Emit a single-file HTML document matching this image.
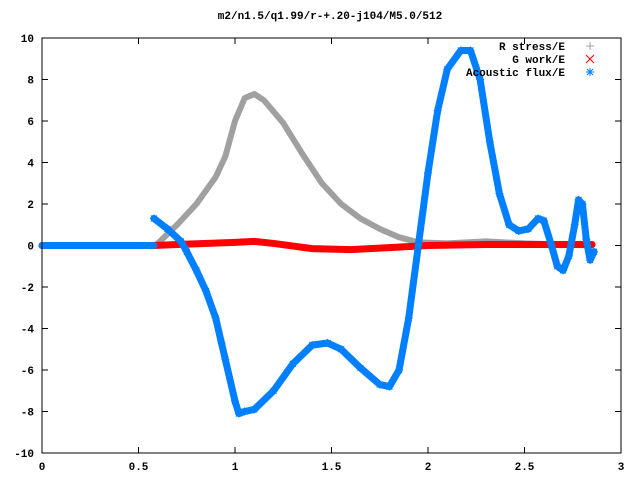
<!DOCTYPE html>
<html><head><meta charset="utf-8"><style>
body{margin:0;background:#fff}
svg text{font-family:"Liberation Mono",monospace;font-size:11px;font-weight:bold;fill:#000}
</style></head><body>
<svg id="chart" width="640" height="480" xmlns="http://www.w3.org/2000/svg">
<rect width="640" height="480" fill="#fff"/>
<text x="330" y="19" text-anchor="middle">m2/n1.5/q1.99/r-+.20-j104/M5.0/512</text>
<g id="axes"></g>
<g id="series"></g>
<rect x="42" y="38" width="579" height="415" fill="none" stroke="#000" stroke-width="1"/>
<g id="legend"></g>
</svg>
<script>
const xTicks=[0,0.5,1,1.5,2,2.5,3];
const xTickLabels=["0","0.5","1","1.5","2","2.5","3"];
const yTicks=[-10,-8,-6,-4,-2,0,2,4,6,8,10];
const yTickLabels=["-10","-8","-6","-4","-2","0","2","4","6","8","10"];
const stressX=[0,0.58,0.6,0.7,0.8,0.9,0.95,1.0,1.05,1.1,1.15,1.25,1.35,1.45,1.55,1.65,1.75,1.85,1.95,2.1,2.3,2.5,2.85];
const stressY=[0,0,0.1,1.0,2.0,3.3,4.3,6.0,7.1,7.3,7.0,5.9,4.4,3.0,2.0,1.3,0.8,0.4,0.15,0.1,0.2,0.1,0];
const workX=[0,0.58,0.7,1.0,1.1,1.2,1.4,1.6,1.8,2.0,2.3,2.85];
const workY=[0,0,0.05,0.15,0.2,0.1,-0.15,-0.2,-0.1,0,0.05,0.05];
const fluxX0=[0,0.58];
const fluxY0=[0,0];
const fluxX=[0.58,0.65,0.72,0.75,0.8,0.85,0.9,0.93,0.95,1.0,1.02,1.05,1.1,1.2,1.3,1.4,1.48,1.55,1.65,1.75,1.8,1.85,1.9,1.95,2.0,2.05,2.1,2.17,2.22,2.27,2.32,2.37,2.42,2.47,2.52,2.57,2.6,2.64,2.67,2.7,2.73,2.76,2.78,2.8,2.82,2.84,2.86];
const fluxY=[1.3,0.8,0.2,-0.3,-1.2,-2.2,-3.5,-4.7,-5.5,-7.5,-8.1,-8.0,-7.9,-7.0,-5.7,-4.8,-4.7,-5.0,-5.9,-6.7,-6.8,-6.0,-3.5,0,3.5,6.5,8.5,9.4,9.4,8.0,5.0,2.5,1.0,0.7,0.8,1.3,1.2,0,-1.0,-1.2,-0.5,1.0,2.2,2.0,0.3,-0.7,-0.3];
const L=42,R=621,T=38,B=453;
const sx=v=>L+(v-0)/(3-0)*(R-L);
const sy=v=>B-(v+10)/20*(B-T);
const NS="http://www.w3.org/2000/svg";
const axes=document.getElementById('axes');
xTicks.forEach((t,i)=>{
  const x=sx(t);
  const a=document.createElementNS(NS,'path');
  a.setAttribute('d',`M${x},${B}v-6M${x},${T}v6`);a.setAttribute('stroke','#000');
  
  
  axes.appendChild(a);
  const tx=document.createElementNS(NS,'text');
  tx.setAttribute('x',x);tx.setAttribute('y',B+17);tx.setAttribute('text-anchor','middle');
  tx.textContent=xTickLabels[i];
  
  
  axes.appendChild(tx);
});
yTicks.forEach((t,i)=>{
  const y=sy(t);
  const a=document.createElementNS(NS,'path');
  a.setAttribute('d',`M${L},${y}h6M${R},${y}h-6`);a.setAttribute('stroke','#000');
  
  
  axes.appendChild(a);
  const tx=document.createElementNS(NS,'text');
  tx.setAttribute('x',L-8);tx.setAttribute('y',y+4);tx.setAttribute('text-anchor','end');
  tx.textContent=yTickLabels[i];
  
  
  axes.appendChild(tx);
});
const series=document.getElementById('series');
function line(xs,ys,color,w,name){
  const p=document.createElementNS(NS,'polyline');
  p.setAttribute('points',xs.map((x,i)=>sx(x)+','+sy(ys[i])).join(' '));
  p.setAttribute('fill','none');p.setAttribute('stroke',color);p.setAttribute('stroke-width',w);
  p.setAttribute('stroke-linejoin','round');p.setAttribute('stroke-linecap','round');
  
  
  series.appendChild(p);
}
line(stressX,stressY,'#a0a0a0',6,'r-stress-line');
line(workX,workY,'#ff0000',7,'g-work-line');
line(fluxX0,fluxY0,'#0080ff',7,'acoustic-flux-zero');
line(fluxX,fluxY,'#0080ff',7,'acoustic-flux-line');
fluxX.forEach((x,i)=>{
  const cx=sx(x),cy=sy(fluxY[i]);
  const m=document.createElementNS(NS,'path');
  m.setAttribute('d',`M${cx-4},${cy}h8M${cx},${cy-4}v8M${cx-3},${cy-3}l6,6M${cx-3},${cy+3}l6,-6`);
  m.setAttribute('stroke','#0080ff');
  
  
  series.appendChild(m);
});
const lg=document.getElementById('legend');
const items=[["R stress/E","#a0a0a0","+"],["G work/E","#ff0000","x"],["Acoustic flux/E","#0080ff","*"]];
items.forEach((it,i)=>{
  const y=50+i*13;
  const t=document.createElementNS(NS,'text');
  t.setAttribute('x',565);t.setAttribute('y',y);t.setAttribute('text-anchor','end');
  t.textContent=it[0];
  
  
  lg.appendChild(t);
  const cx=590,cy=y-4;
  let d=`M${cx-4},${cy}h8M${cx},${cy-4}v8`;
  if(it[2]=='x')d=`M${cx-4},${cy-4}l8,8M${cx-4},${cy+4}l8,-8`;
  if(it[2]=='*')d+=`M${cx-3},${cy-3}l6,6M${cx-3},${cy+3}l6,-6`;
  const m=document.createElementNS(NS,'path');
  m.setAttribute('d',d);m.setAttribute('stroke',it[1]);
  
  
  lg.appendChild(m);
});
</script>
</body></html>
